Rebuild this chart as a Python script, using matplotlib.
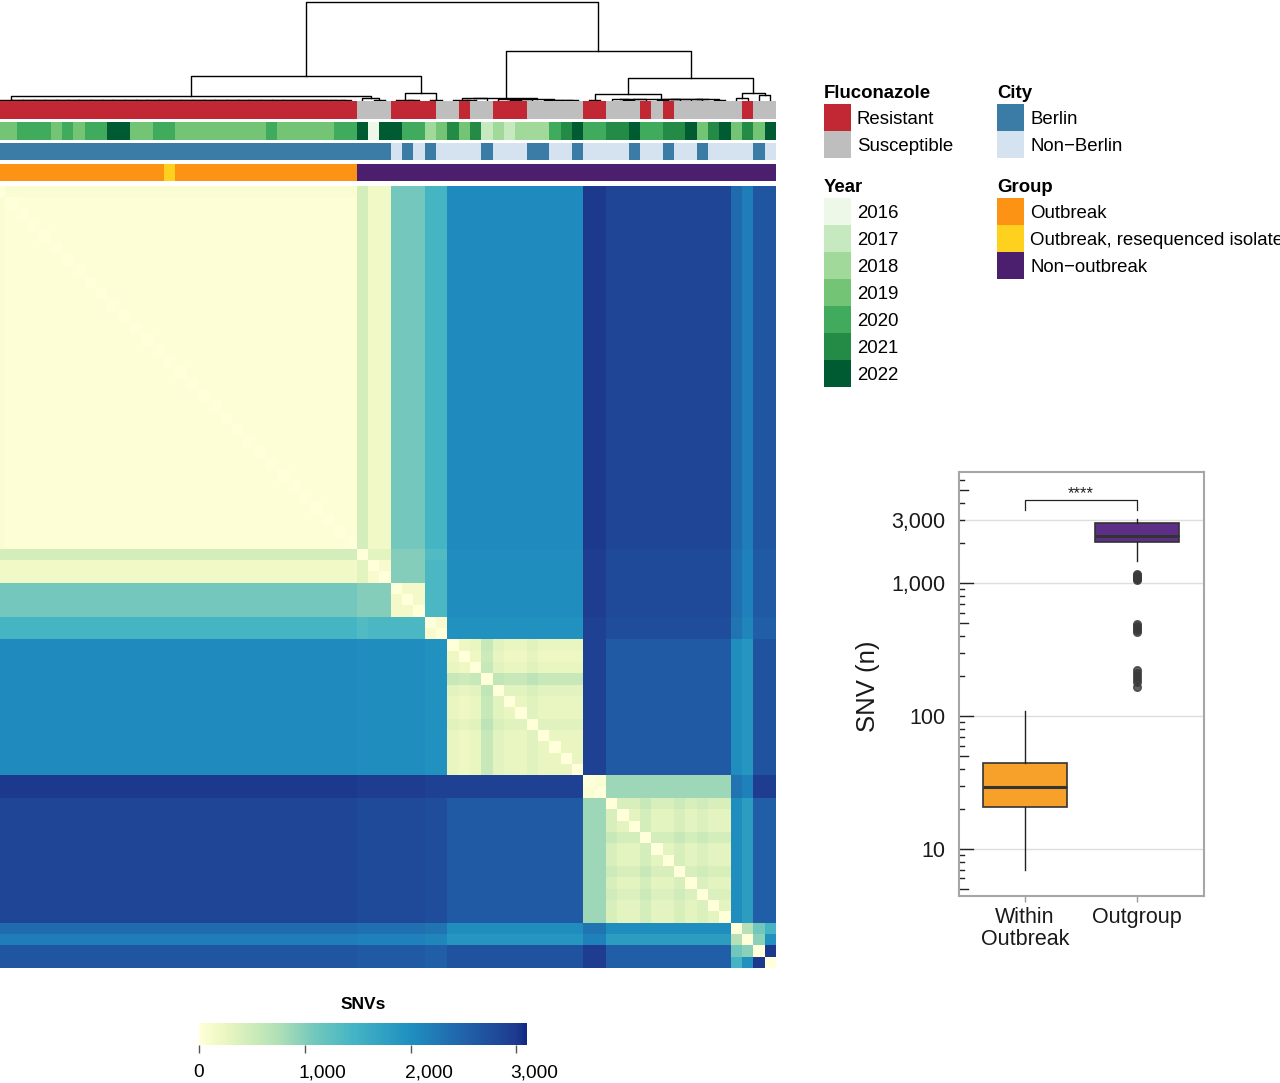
import numpy as np
import matplotlib
matplotlib.use("Agg")
import matplotlib.pyplot as plt
from matplotlib.colors import ListedColormap, LinearSegmentedColormap
from matplotlib.patches import Rectangle
from matplotlib.transforms import blended_transform_factory, ScaledTranslation
from matplotlib.ticker import NullLocator

plt.rcParams['font.family'] = ['Liberation Sans', 'DejaVu Sans']

W, H = 1280, 1083

# --- pairwise SNV matrix, isolates in clustered order ---
groups = ["A", "B1", "B2", "C", "D", "E", "F1", "F2", "G1", "G2", "G3", "G4"]
group_sizes = [32, 1, 2, 3, 2, 12, 2, 11, 1, 1, 1, 1]
block_snv = [
    [30, 450, 180, 1080, 1450, 2050, 3000, 2850, 2400, 2200, 2650, 2650],
    [450, 0, 300, 1000, 1350, 2000, 2950, 2800, 2350, 2150, 2600, 2600],
    [180, 300, 100, 1000, 1400, 2000, 2950, 2800, 2350, 2150, 2600, 2600],
    [1080, 1000, 1000, 150, 1400, 2000, 2950, 2800, 2350, 2150, 2600, 2600],
    [1450, 1350, 1400, 1400, 100, 1950, 2900, 2750, 2300, 2100, 2550, 2550],
    [2050, 2000, 2000, 2000, 1950, 250, 2900, 2600, 2000, 1900, 2700, 2700],
    [3000, 2950, 2950, 2950, 2900, 2900, 60, 850, 2300, 2150, 2950, 2950],
    [2850, 2800, 2800, 2800, 2750, 2600, 850, 300, 2000, 1800, 2550, 2550],
    [2400, 2350, 2350, 2350, 2300, 2000, 2300, 2000, 0, 700, 1100, 1450],
    [2200, 2150, 2150, 2150, 2100, 1900, 2150, 1800, 700, 0, 950, 1950],
    [2650, 2600, 2600, 2600, 2550, 2700, 2950, 2550, 1100, 950, 0, 3000],
    [2650, 2600, 2600, 2600, 2550, 2700, 2950, 2550, 1450, 1950, 3000, 0],
]
# extra distance of some isolates to the rest of their own group
within_extra = {0: 40, 41: -50, 43: 300, 44: 60, 47: 80, 54: 100, 57: 150, 60: 100, 62: 80}

# --- annotations (value, run length) ---
flu_runs = [("Resistant", 32), ("Susceptible", 3), ("Resistant", 4), ("Susceptible", 2),
            ("Resistant", 1), ("Susceptible", 2), ("Resistant", 3), ("Susceptible", 5),
            ("Resistant", 2), ("Susceptible", 3), ("Resistant", 1), ("Susceptible", 1),
            ("Resistant", 1), ("Susceptible", 6), ("Resistant", 1), ("Susceptible", 2)]
year_runs = [(2019, 2), (2020, 3), (2019, 1), (2020, 1), (2019, 1), (2020, 2), (2022, 2),
             (2019, 2), (2020, 2), (2019, 8), (2020, 1), (2019, 5), (2020, 2),
             (2022, 1), (2016, 1), (2022, 2), (2020, 2), (2018, 1), (2019, 1), (2021, 1),
             (2019, 1), (2021, 1), (2017, 1), (2018, 1), (2017, 1), (2018, 3), (2020, 1),
             (2021, 1), (2022, 1), (2020, 2), (2021, 2), (2022, 1), (2020, 2), (2021, 2),
             (2022, 1), (2019, 1), (2021, 1), (2022, 1), (2019, 1), (2021, 1), (2019, 1),
             (2022, 1)]
city_runs = [("Berlin", 35), ("Non-Berlin", 1), ("Berlin", 1), ("Non-Berlin", 1), ("Berlin", 1),
             ("Non-Berlin", 4), ("Berlin", 1), ("Non-Berlin", 3), ("Berlin", 2), ("Non-Berlin", 2),
             ("Berlin", 1), ("Non-Berlin", 4), ("Berlin", 1), ("Non-Berlin", 2), ("Berlin", 1),
             ("Non-Berlin", 2), ("Berlin", 1), ("Non-Berlin", 4), ("Berlin", 1), ("Non-Berlin", 1)]
group_runs = [("Outbreak", 15), ("Outbreak, resequenced isolate", 1), ("Outbreak", 16),
              ("Non-outbreak", 37)]

flu_levels = ["Resistant", "Susceptible"]
flu_colors = ["#c22834", "#bebebe"]
year_levels = [2016, 2017, 2018, 2019, 2020, 2021, 2022]
year_colors = ["#edf8e9", "#c7e9c0", "#a1d99b", "#74c476", "#41ab5d", "#238b45", "#005a32"]
city_levels = ["Berlin", "Non-Berlin"]
city_colors = ["#3a7ca5", "#d4e3ef"]
group_levels = ["Outbreak", "Outbreak, resequenced isolate", "Non-outbreak"]
group_colors = ["#fc9314", "#fed11f", "#4b1e6e"]

snv_breaks = [0, 200, 450, 750, 1080, 1450, 2000, 2500, 3000, 3100]
snv_colors = ["#ffffd9", "#eff8c3", "#d3eebb", "#b0dfb7", "#74c8bc", "#45b5c5",
              "#1f8fc0", "#2163aa", "#1e3a8f", "#102a84"]

# --- boxplot summary (log scale) ---
box_labels = ["Within\nOutbreak", "Outgroup"]
box_whislo = [7.0, 1460]
box_q1 = [20.8, 2060]
box_med = [29.1, 2255]
box_q3 = [44.1, 2840]
box_whishi = [110, 3060]
box_fliers = [[], [1050, 1080, 1100, 1120, 1150, 1180, 430, 445, 460, 475, 490,
                   165, 180, 190, 200, 210, 222]]
box_colors = ["#f7a12b", "#5d2f87"]


def expand(runs):
    return [v for v, n in runs for _ in range(n)]


def build_matrix():
    labels = np.repeat(np.arange(len(groups)), group_sizes)
    snv = np.array(block_snv, float)[labels][:, labels]
    for i, extra in within_extra.items():
        same = labels == labels[i]
        snv[i, same] += extra
        snv[same, i] += extra
    np.fill_diagonal(snv, 0)
    return snv


def dendrogram_segments(mat):
    # ward.D2 on euclidean row distances, only neighbouring clusters are merged
    D = np.sqrt(((mat[:, None, :] - mat[None, :, :]) ** 2).sum(-1))
    order = list(range(len(mat)))
    size = {i: 1 for i in order}
    node = {i: (float(i), 0.0) for i in order}
    segs = []
    while len(order) > 1:
        vals = [D[order[t], order[t + 1]] for t in range(len(order) - 1)]
        low = min(vals)
        k = max(t for t, v in enumerate(vals) if v <= low + 1e-6)
        a, b = order[k], order[k + 1]
        (x1, h1), (x2, h2) = node[a], node[b]
        h = max(D[a, b], h1, h2)
        segs.append(([x1, x1, x2, x2], [h1, h, h, h2]))
        na, nb = size[a], size[b]
        for m in order:
            if m in (a, b):
                continue
            nm = size[m]
            d2 = ((na + nm) * D[a, m] ** 2 + (nb + nm) * D[b, m] ** 2
                  - nm * D[a, b] ** 2) / (na + nb + nm)
            D[a, m] = D[m, a] = np.sqrt(max(d2, 0.0))
        size[a] = na + nb
        node[a] = ((x1 + x2) / 2, h)
        order.pop(k + 1)
    return segs, node[order[0]][1]


fig = plt.figure(figsize=(W / 100, H / 100), dpi=100)


def px_axes(left, top, right, bottom):
    return fig.add_axes([left / W, 1 - bottom / H, (right - left) / W, (bottom - top) / H])


snv = build_matrix()
n = len(snv)
hm_left, hm_right = -5.7, 776

# dendrogram
ax_dn = px_axes(hm_left, 1, hm_right, 100)
segs, root = dendrogram_segments(snv)
for xs, ys in segs:
    ax_dn.plot(xs, ys, color="black", lw=1.0, clip_on=False)
ax_dn.set_xlim(-0.5, n - 0.5)
ax_dn.set_ylim(0, root * 1.01)
ax_dn.axis("off")

# annotation bars
bars = [(flu_runs, flu_levels, flu_colors, 101, 119),
        (year_runs, year_levels, year_colors, 122, 140),
        (city_runs, city_levels, city_colors, 143, 160),
        (group_runs, group_levels, group_colors, 164, 181)]
for runs, levels, colors, top, bottom in bars:
    ax = px_axes(hm_left, top, hm_right, bottom)
    codes = [levels.index(v) for v in expand(runs)]
    ax.imshow([codes], cmap=ListedColormap(colors), vmin=-0.5, vmax=len(colors) - 0.5,
              aspect="auto", interpolation="nearest")
    ax.set_xlim(-0.5, n - 0.5)
    ax.axis("off")

# heatmap
cmap = LinearSegmentedColormap.from_list(
    "snv", list(zip(np.array(snv_breaks) / snv_breaks[-1], snv_colors)))
ax_hm = px_axes(hm_left, 186, hm_right, 968)
im = ax_hm.imshow(snv, cmap=cmap, vmin=0, vmax=snv_breaks[-1], aspect="auto",
                  interpolation="nearest")
ax_hm.axis("off")

# colour bar
cax = px_axes(199, 1023, 527, 1045)
cb = fig.colorbar(im, cax=cax, orientation="horizontal", ticks=[0, 1000, 2000, 3000])
cb.outline.set_visible(False)
cax.tick_params(length=6, width=1, color="#555555", pad=8, labelsize=13.8)
cax.set_xticklabels(["0", "1,000", "2,000", "3,000"])
for lab in cax.get_xticklabels():
    lab.set_horizontalalignment("left")
    lab.set_transform(lab.get_transform() + ScaledTranslation(-6 / 100, 0, fig.dpi_scale_trans))
cax.set_title("SNVs", fontsize=12.5, fontweight="bold", pad=10)

# legends + free text in pixel coordinates
leg = fig.add_axes([0, 0, 1, 1])
leg.set_xlim(0, W)
leg.set_ylim(H, 0)
leg.axis("off")


def draw_legend(x, y, title, levels, colors):
    leg.text(x, y - 6.5, title, fontsize=13.4, fontweight="bold", va="baseline", ha="left")
    for k, (lab, col) in enumerate(zip(levels, colors)):
        top = y + k * 27
        leg.add_patch(Rectangle((x, top), 27, 27, facecolor=col, edgecolor="none"))
        leg.text(x + 33, top + 13.5, str(lab).replace("Non-", "Non\u2212"), fontsize=13.4,
                 va="center_baseline", ha="left")


draw_legend(824, 104, "Fluconazole", flu_levels, flu_colors)
draw_legend(997, 104, "City", city_levels, city_colors)
draw_legend(824, 198, "Year", year_levels, year_colors)
draw_legend(997, 198, "Group", group_levels, group_colors)

leg.text(868, 686, "SNV (n)", rotation=90, ha="center", va="center", fontsize=18.5,
         color="#1a1a1a")

# boxplot
ax_bx = px_axes(959, 472, 1204, 896)
stats = []
for k in range(len(box_labels)):
    stats.append(dict(whislo=box_whislo[k], q1=box_q1[k], med=box_med[k], q3=box_q3[k],
                      whishi=box_whishi[k], fliers=box_fliers[k]))
bp = ax_bx.bxp(stats, positions=[0, 1], widths=0.75, patch_artist=True, showcaps=False,
               boxprops=dict(edgecolor="#333333", linewidth=1.2),
               medianprops=dict(color="#333333", linewidth=2.2),
               whiskerprops=dict(color="#222222", linewidth=1.0),
               flierprops=dict(marker="o", markerfacecolor="#3a3a3a", markeredgecolor="#3a3a3a",
                               markersize=5.5, alpha=0.8))
for patch, col in zip(bp["boxes"], box_colors):
    patch.set_facecolor(col)
ax_bx.set_yscale("log")
ax_bx.set_ylim(4.43, 6870)
ax_bx.set_xlim(-0.59, 1.6)
ax_bx.set_yticks([10, 100, 1000, 3000])
ax_bx.set_yticklabels(["10", "100", "1,000", "3,000"])
ax_bx.yaxis.set_minor_locator(NullLocator())
ax_bx.yaxis.grid(True, color="#dedede", linewidth=1.0)
ax_bx.set_axisbelow(True)
ax_bx.tick_params(axis="y", length=0, pad=10, labelsize=15.5, labelcolor="#1a1a1a")
ax_bx.set_xticks([0, 1])
ax_bx.set_xticklabels(box_labels, linespacing=1.05)
ax_bx.tick_params(axis="x", length=4, width=1, color="#999999", pad=4, labelsize=15.5,
                  labelcolor="#1a1a1a")
for sp in ax_bx.spines.values():
    sp.set_color("#a6a6a6")
    sp.set_linewidth(1.5)

# log ticks inside the panel
trans = blended_transform_factory(ax_bx.transAxes, ax_bx.transData)
for decade in [1, 10, 100, 1000]:
    for m in range(1, 10):
        v = m * decade
        if 4.43 < v < 6870:
            L = 14 if m == 1 else (9 if m == 5 else 5)
            ax_bx.plot([0, L / 245], [v, v], transform=trans, color="#222222", lw=1.0)

# significance bracket
ax_bx.plot([0, 0, 1, 1], [3540, 4210, 4210, 3540], color="#222222", lw=0.9)
ax_bx.text(0.5, 4360, "****", ha="center", va="baseline", fontsize=12, color="#222222")

fig.savefig("out.png", dpi=100)
